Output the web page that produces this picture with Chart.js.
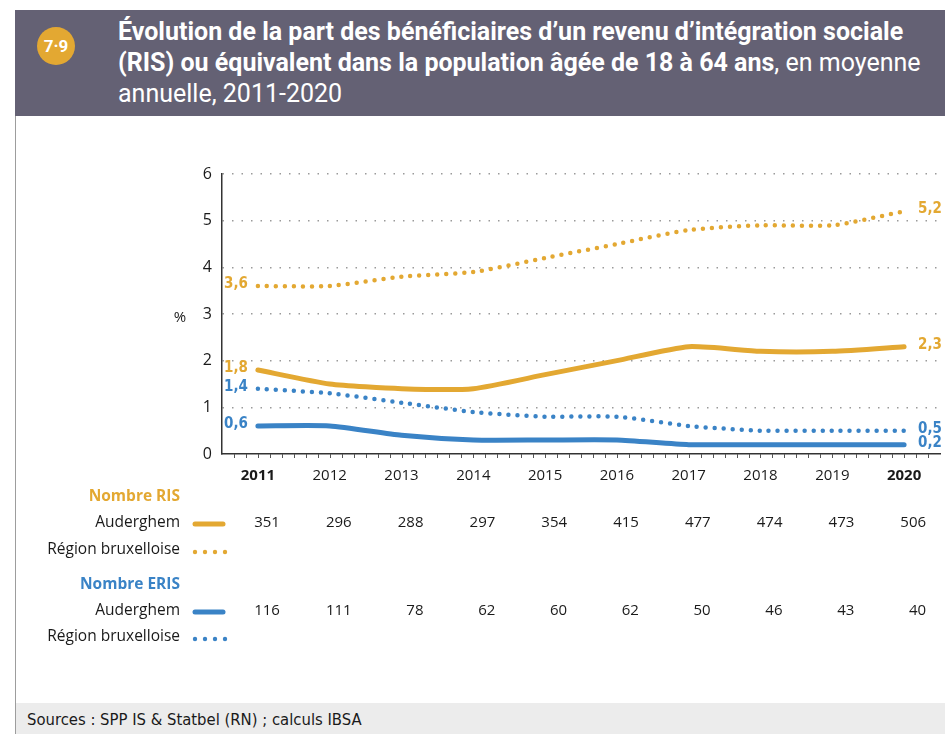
<!DOCTYPE html>
<html lang="fr">
<head>
<meta charset="utf-8">
<title>Bénéficiaires RIS - Auderghem</title>
<script src="https://cdn.jsdelivr.net/npm/chart.js@4.4.1/dist/chart.umd.min.js"></script>
<style>
  html, body { margin: 0; padding: 0; background: #fff; }
  body { width: 945px; height: 734px; position: relative; overflow: hidden; font-family: "Open Sans", sans-serif; }
  .head { position: absolute; left: 15px; top: 10px; width: 930px; height: 106px; background: #646174; }
  .badge { position: absolute; left: 37px; top: 27px; width: 38px; height: 38px; border-radius: 50%; background: #e3a832;
           color: #fff; font: bold 17px Roboto, sans-serif; text-align: center; line-height: 38px; }
  .title { position: absolute; left: 118px; top: 16px; width: 827px; white-space: nowrap; color: #fff; font: 700 25px/31px Roboto, sans-serif; }
  .title span { font-weight: 400; }
  .side { position: absolute; left: 15px; top: 116px; width: 1px; height: 618px; background: #9d9d9d; }
  .foot { position: absolute; left: 16px; top: 703px; width: 929px; height: 31px; background: #ececec;
          font: 16.5px "Liberation Sans Narrow", "DejaVu Sans Condensed", sans-serif; color: #1a1a1a; line-height: 34px; padding-left: 11px; box-sizing: border-box; }
  #chart { position: absolute; left: 16px; top: 116px; }
</style>
</head>
<body>
<div class="head">
</div>
<div class="badge">7·9</div>
<div class="title">Évolution de la part des bénéficiaires d’un revenu d’intégration sociale<br>(RIS) ou équivalent dans la population âgée de 18 à 64 ans<span>, en moyenne<br>annuelle, 2011-2020</span></div>
<div class="side"></div>
<canvas id="chart" width="929" height="587"></canvas>
<div class="foot">Sources : SPP IS &amp; Statbel (RN) ; calculs IBSA</div>

<script>
var years = ['2011', '2012', '2013', '2014', '2015', '2016', '2017', '2018', '2019', '2020'];
// part en % de la population 18-64 ans
var risRegion     = [3.6, 3.6, 3.8, 3.9, 4.2, 4.5, 4.8, 4.9, 4.9, 5.2];
var risAuderghem  = [1.8, 1.5, 1.4, 1.4, 1.7, 2.0, 2.3, 2.2, 2.2, 2.3];
var erisRegion    = [1.4, 1.3, 1.1, 0.9, 0.8, 0.8, 0.6, 0.5, 0.5, 0.5];
var erisAuderghem = [0.6, 0.6, 0.4, 0.3, 0.3, 0.3, 0.2, 0.2, 0.2, 0.2];
// nombres absolus Auderghem
var nbRis  = [351, 296, 288, 297, 354, 415, 477, 474, 473, 506];
var nbEris = [116, 111, 78, 62, 60, 62, 50, 46, 43, 40];
var yTicks = [0, 1, 2, 3, 4, 5, 6];

var ORANGE = '#e3a832';
var BLUE = '#3a83c6';
var TEXT = '#1a1a1a';
var FONT = '"Open Sans", sans-serif';
var LABEL_FONT = '"Liberation Sans Narrow", "DejaVu Sans Condensed", sans-serif';

function fmt(v) {
    return v.toFixed(1).replace('.', ',');
}

function dotted(color, data) {
    return {
        data: data, borderColor: color, borderWidth: 4.5, borderDash: [0, 9],
        borderCapStyle: 'round', pointRadius: 0, tension: 0.2, fill: false
    };
}
function solid(color, data) {
    return {
        data: data, borderColor: color, borderWidth: 5, borderCapStyle: 'round',
        borderJoinStyle: 'round', pointRadius: 0, tension: 0.2, fill: false
    };
}

// étiquettes, tableau des nombres et petits repères sous l'axe
var extras = {
    id: 'extras',
    afterDraw: function (chart) {
        var ctx = chart.ctx, area = chart.chartArea;
        var x = chart.scales.x, y = chart.scales.y;
        var step = x.getPixelForValue(1) - x.getPixelForValue(0);
        ctx.save();

        // repères sous l'axe horizontal
        ctx.strokeStyle = '#555';
        ctx.lineWidth = 1;
        for (var k = -3; k <= 9 * 6 + 3; k++) {
            var px = Math.round(x.getPixelForValue(0) + k * step / 6) + 0.5;
            if (px <= area.left + 2 || px >= area.right) continue;
            ctx.beginPath();
            ctx.moveTo(px, area.bottom);
            ctx.lineTo(px, area.bottom + 4);
            ctx.stroke();
        }

        // unité
        ctx.fillStyle = TEXT;
        ctx.font = '15px ' + FONT;
        ctx.textAlign = 'center';
        ctx.textBaseline = 'middle';
        ctx.fillText('%', area.left - 42, y.getPixelForValue(3) + 4);

        // valeurs de début et de fin de courbe
        ctx.font = 'bold 15px ' + LABEL_FONT;
        var series = [[risRegion, ORANGE], [risAuderghem, ORANGE], [erisRegion, BLUE], [erisAuderghem, BLUE]];
        series.forEach(function (s) {
            var d = s[0];
            ctx.fillStyle = s[1];
            ctx.textAlign = 'right';
            ctx.fillText(fmt(d[0]), x.getPixelForValue(0) - 10, y.getPixelForValue(d[0]) - 2);
            ctx.textAlign = 'left';
            ctx.fillText(fmt(d[d.length - 1]), x.getPixelForValue(d.length - 1) + 14, y.getPixelForValue(d[d.length - 1]) - 2);
        });

        // tableau
        var labelX = area.left - 42;
        var swL = area.left - 29, swR = area.left + 3;
        var rows = [
            { text: 'Nombre RIS', color: ORANGE, bold: true, dy: 43 },
            { text: 'Auderghem', color: TEXT, dy: 69, line: ORANGE, values: nbRis },
            { text: 'Région bruxelloise', color: TEXT, dy: 96, dots: ORANGE },
            { text: 'Nombre ERIS', color: BLUE, bold: true, dy: 131 },
            { text: 'Auderghem', color: TEXT, dy: 157, line: BLUE, values: nbEris },
            { text: 'Région bruxelloise', color: TEXT, dy: 183, dots: BLUE }
        ];
        rows.forEach(function (r) {
            var ry = area.bottom + r.dy;
            ctx.textAlign = 'right';
            ctx.fillStyle = r.color;
            ctx.font = (r.bold ? 'bold ' : '') + '15.5px ' + FONT;
            ctx.fillText(r.text, labelX, ry);
            if (r.line) {
                ctx.strokeStyle = r.line;
                ctx.lineWidth = 5;
                ctx.lineCap = 'round';
                ctx.setLineDash([]);
                ctx.beginPath();
                ctx.moveTo(swL + 2, ry + 1);
                ctx.lineTo(swR - 2, ry + 1);
                ctx.stroke();
            }
            if (r.dots) {
                ctx.fillStyle = r.dots;
                for (var i = 0; i < 4; i++) {
                    ctx.beginPath();
                    ctx.arc(swL + 2 + i * 10, ry + 2, 2.2, 0, Math.PI * 2);
                    ctx.fill();
                }
            }
            if (r.values) {
                ctx.fillStyle = TEXT;
                ctx.font = '15px ' + FONT;
                r.values.forEach(function (v, i) {
                    ctx.fillText(String(v), x.getPixelForValue(i) + 22, ry);
                });
            }
        });
        ctx.restore();
    }
};

var ctx = document.getElementById('chart');
var chart = new Chart(ctx, {
    type: 'line',
    data: {
        labels: years,
        datasets: [
            dotted(ORANGE, risRegion),
            solid(ORANGE, risAuderghem),
            dotted(BLUE, erisRegion),
            solid(BLUE, erisAuderghem)
        ]
    },
    options: {
        responsive: false,
        animation: false,
        layout: { padding: { top: 58, right: 5, left: 0, bottom: 0 } },
        plugins: { legend: { display: false }, tooltip: { enabled: false }, title: { display: false } },
        scales: {
            x: {
                offset: true,
                grid: { display: false },
                border: { display: true, color: '#333', width: 1.5 },
                ticks: {
                    color: TEXT,
                    padding: 5,
                    font: function (c) {
                        var b = c.index === 0 || c.index === years.length - 1;
                        return { family: FONT, size: 15, weight: b ? 'bold' : 'normal' };
                    }
                },
                afterFit: function (s) { s.height = 249; }
            },
            y: {
                min: yTicks[0],
                max: yTicks[yTicks.length - 1],
                afterBuildTicks: function (s) { s.ticks = yTicks.map(function (v) { return { value: v }; }); },
                grid: {
                    drawTicks: false,
                    lineWidth: 1.5,
                    color: function (c) { return c.tick && c.tick.value === 0 ? 'rgba(0,0,0,0)' : '#9a9a9a'; }
                },
                border: { display: true, color: '#333', width: 1.5, dash: [1.5, 8] },
                ticks: { color: TEXT, padding: 10, font: { family: FONT, size: 16 } },
                afterFit: function (s) { s.width = 206; }
            }
        }
    },
    plugins: [extras]
});
</script>
</body>
</html>
